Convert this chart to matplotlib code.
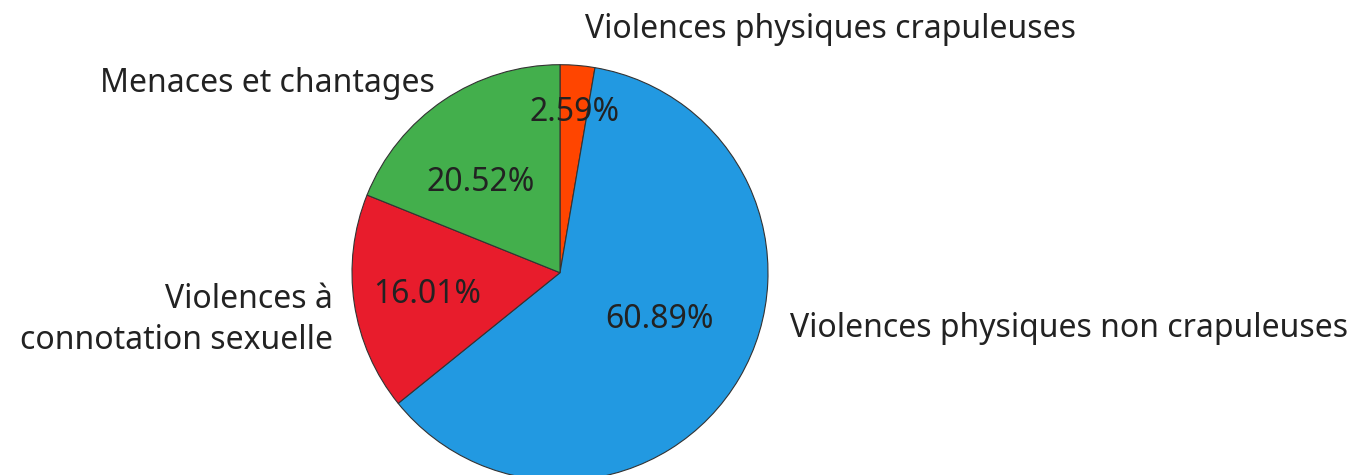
import matplotlib.pyplot as plt

plt.rcParams['font.family'] = ['Noto Sans', 'DejaVu Sans']

categories = ["Violences physiques crapuleuses",
              "Violences physiques non crapuleuses",
              "Violences à\nconnotation sexuelle",
              "Menaces et chantages"]
# slice sizes as drawn in the picture (%), and the percentages printed on them
slice_share = [2.69, 61.5, 16.9, 18.91]
pct_labels = ["2.59%", "60.89%", "16.01%", "20.52%"]
colors = ["#FF4500", "#2299E1", "#E81C2C", "#43AF4C"]

fig = plt.figure(figsize=(13.6, 4.75), dpi=100)
W, H = 1360, 475
cx, cy, r = 560, 272.7, 208
ax = fig.add_axes([(cx - r) / W, (H - cy - r) / H, 2 * r / W, 2 * r / H])

wedges, texts = ax.pie(
    slice_share, labels=categories, colors=colors, startangle=90, counterclock=False,
    labeldistance=1.1,
    wedgeprops=dict(edgecolor='#333333', linewidth=0.8),
    textprops=dict(fontsize=23, color='#222222'))
ax.set_aspect('equal')
ax.set_xlim(-1, 1)
ax.set_ylim(-1, 1)

# percentages inside the slices
pct_pos = [(0.072, 0.772), (0.48, -0.227), (-0.64, -0.107), (-0.38, 0.435)]
for lab, (px, py) in zip(pct_labels, pct_pos):
    ax.text(px, py, lab, fontsize=23, color='#222222', ha='center', va='center')

# outside labels placed like the original
label_pos = [(0.12, 1.167, 'left'), (1.106, -0.266, 'left'),
             (-1.09, -0.227, 'right'), (-0.60, 0.912, 'right')]
for t, (lx, ly, ha) in zip(texts, label_pos):
    t.set_position((lx, ly))
    t.set_horizontalalignment(ha)
    t.set_verticalalignment('center')
    t.set_multialignment('right' if ha == 'right' else 'left')
    t.set_linespacing(1.35)

fig.savefig("out.png", dpi=100)
